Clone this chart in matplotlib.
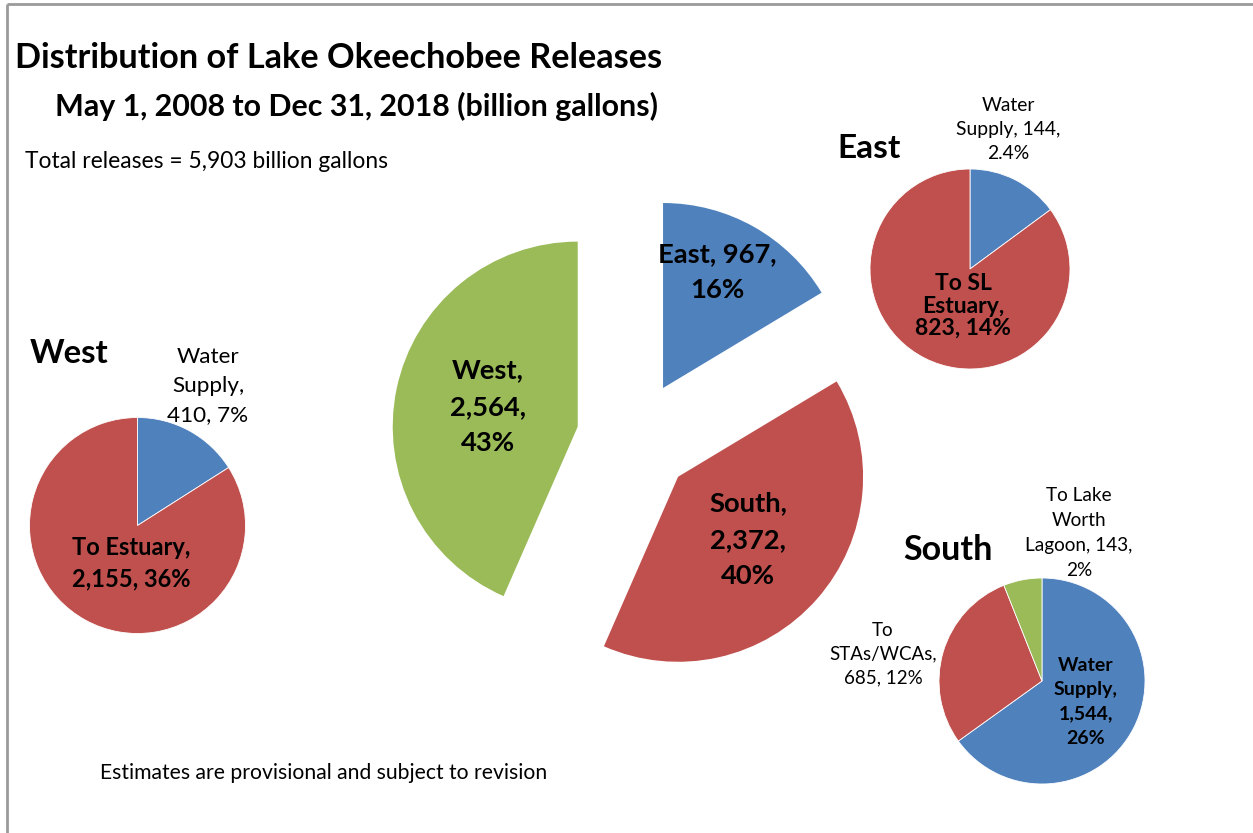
import numpy as np
import matplotlib
matplotlib.use('Agg')
from matplotlib import pyplot as plt

plt.rcParams['font.family'] = ['Lato', 'DejaVu Sans']

# main pie: releases by direction (billion gallons)
regions = ['East', 'South', 'West']
region_values = [967, 2372, 2564]
region_pct = ['16%', '40%', '43%']

# breakdown of each direction
west_parts = ['Water Supply', 'To Estuary']
west_values = [410, 2155]
west_pct = ['7%', '36%']

east_parts = ['Water Supply', 'To SL Estuary']
east_values = [144, 823]
east_pct = ['2.4%', '14%']

south_parts = ['Water Supply', 'To STAs/WCAs', 'To Lake Worth Lagoon']
south_values = [1544, 685, 143]
south_pct = ['26%', '12%', '2%']

blue = '#4F81BD'
red = '#C0504D'
green = '#9BBB59'

W, H = 1253, 833
fig = plt.figure(figsize=(W / 100, H / 100), dpi=100)
ax = fig.add_axes([0, 0, 1, 1])

def Y(y):
    # pixel row (from top) -> data y
    return H - y

wp = dict(edgecolor='white', linewidth=0.6)

# big exploded pie
ax.pie(region_values, colors=[blue, red, green], startangle=90, counterclock=False,
       center=(634.5, Y(438.5)), radius=185, explode=[58, 58, 58],
       wedgeprops=dict(edgecolor='none'), frame=True)

ax.pie(west_values, colors=[blue, red], startangle=90, counterclock=False,
       center=(137.5, Y(525.5)), radius=108, wedgeprops=wp, frame=True)
ax.pie(east_values, colors=[blue, red], startangle=90, counterclock=False,
       center=(970, Y(269)), radius=100, wedgeprops=wp, frame=True)
ax.pie(south_values, colors=[blue, red, green], startangle=90, counterclock=False,
       center=(1042, Y(681)), radius=103, wedgeprops=wp, frame=True)

ax.set_xlim(0, W)
ax.set_ylim(0, H)
ax.set_aspect('equal')
ax.axis('off')

# frame lines (top and left)
ax.plot([7, W], [Y(4), Y(4)], color='#9a9a9a', lw=2, solid_capstyle='butt')
ax.plot([7, 7], [Y(4), 0], color='#9a9a9a', lw=2, solid_capstyle='butt')

# headings
ax.text(15, Y(68), 'Distribution of Lake Okeechobee Releases', fontsize=24.7,
        fontweight='bold', ha='left', va='baseline')
ax.text(55, Y(116), 'May 1, 2008 to Dec 31, 2018 (billion gallons)', fontsize=21.9,
        fontweight='bold', ha='left', va='baseline')
ax.text(25, Y(168), 'Total releases = {:,} billion gallons'.format(sum(region_values)),
        fontsize=16.4, ha='left', va='baseline')
ax.text(100, Y(779), 'Estimates are provisional and subject to revision',
        fontsize=15.2, ha='left', va='baseline')

ax.text(30, Y(363), 'West', fontsize=23.8, fontweight='bold', ha='left', va='baseline')
ax.text(837, Y(158), 'East', fontsize=24, fontweight='bold', ha='left', va='baseline')
ax.text(903, Y(560), 'South', fontsize=24.5, fontweight='bold', ha='left', va='baseline')

# main pie labels
main_pos = [(717, 272), (748, 540), (488, 407)]
main_txt = ['{}, {:,},\n{}'.format(regions[0], region_values[0], region_pct[0]),
            '{},\n{:,},\n{}'.format(regions[1], region_values[1], region_pct[1]),
            '{},\n{:,},\n{}'.format(regions[2], region_values[2], region_pct[2])]
for (x, y), t in zip(main_pos, main_txt):
    ax.text(x, Y(y), t, fontsize=19.7, fontweight='bold', ha='center', va='center',
            linespacing=1.62)

# west labels
ax.text(208, Y(386), 'Water\nSupply,\n{:,}, {}'.format(west_values[0], west_pct[0]),
        fontsize=16.2, ha='center', va='center', linespacing=1.58)
ax.text(131, Y(563), 'To Estuary,\n{:,}, {}'.format(west_values[1], west_pct[1]),
        fontsize=17, fontweight='bold', ha='center', va='center', linespacing=1.43)

# east labels
ax.text(1008, Y(129), 'Water\nSupply, {:,},\n{}'.format(east_values[0], east_pct[0]),
        fontsize=13.9, ha='center', va='center', linespacing=1.5)
ax.text(963, Y(306), 'To SL\nEstuary,\n{:,}, {}'.format(east_values[1], east_pct[1]),
        fontsize=16.5, fontweight='bold', ha='center', va='center', linespacing=1.1)

# south labels
ax.text(1079, Y(533), 'To Lake\nWorth\nLagoon, {:,},\n{}'.format(south_values[2], south_pct[2]),
        fontsize=13.7, ha='center', va='center', linespacing=1.55)
ax.text(883, Y(654), 'To\nSTAs/WCAs,\n{:,}, {}'.format(south_values[1], south_pct[1]),
        fontsize=13.5, ha='center', va='center', linespacing=1.5)
ax.text(1086, Y(702), 'Water\nSupply,\n{:,},\n{}'.format(south_values[0], south_pct[0]),
        fontsize=14, fontweight='bold', ha='center', va='center', linespacing=1.53)

plt.savefig('out.png', dpi=100)
